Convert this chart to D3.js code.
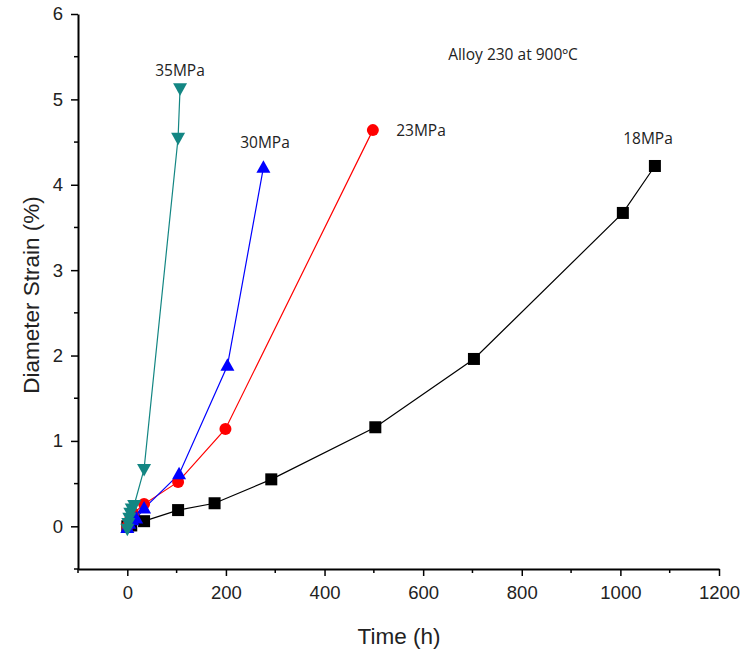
<!DOCTYPE html>
<html><head><meta charset="utf-8">
<script src="https://cdn.jsdelivr.net/npm/d3@7"></script>
<style>body{margin:0;background:#fff}</style>
</head><body>
<svg id="c" width="742" height="651"></svg>
<script>
const xTicks = [0, 200, 400, 600, 800, 1000, 1200];
const yTicks = [0, 1, 2, 3, 4, 5, 6];
const s18t = [0, 8, 34, 103, 177, 292, 503, 703, 1005, 1070];
const s18v = [0, 0.01, 0.06, 0.19, 0.27, 0.55, 1.16, 1.96, 3.67, 4.22];
const s23t = [0, 5, 12, 34, 103, 199, 498];
const s23v = [0, 0.07, 0.15, 0.26, 0.52, 1.14, 4.64];
const s30t = [0, 4, 10, 18, 34, 105, 203, 276];
const s30v = [-0.02, 0.03, 0.07, 0.09, 0.21, 0.61, 1.88, 4.2];
const s35t = [0, 2, 4, 6, 9, 14, 34, 103, 107];
const s35v = [-0.03, 0.04, 0.1, 0.16, 0.21, 0.25, 0.67, 4.55, 5.13];
const seriesNames = ["18MPa", "23MPa", "30MPa", "35MPa"];
const colors = ["#000000", "#ff0000", "#0000ff", "#138683"];
const shapes = ["square", "circle", "up", "down"];

const svg = d3.select("#c");
const x = d3.scaleLinear().domain([-100, 1200]).range([78, 719]);
const y = d3.scaleLinear().domain([-0.5, 6]).range([569, 14]);
const font = "Arial, 'Liberation Sans', sans-serif";

// axes
const xAxis = d3.axisBottom(x).tickValues(xTicks).tickFormat(d3.format("d")).tickSize(7).tickSizeOuter(0).tickPadding(10);
const gx = svg.append("g").attr("transform", `translate(0,${y(-0.5)})`).call(xAxis);
const xMinor = d3.range(-100, 1201, 100).filter(v => !xTicks.includes(v));
gx.selectAll(".minor").data(xMinor).enter().append("line")
  .attr("x1", d => x(d)).attr("x2", d => x(d)).attr("y1", 0).attr("y2", 4).attr("stroke", "#000").attr("stroke-width", 1.5);
const yAxis = d3.axisLeft(y).tickValues(yTicks).tickFormat(d3.format("d")).tickSize(7).tickSizeOuter(0).tickPadding(8);
const gy = svg.append("g").attr("transform", `translate(${x(-100)},0)`).call(yAxis);
const yMinor = d3.range(-0.5, 6, 1);
gy.selectAll(".minor").data(yMinor).enter().append("line")
  .attr("x1", 0).attr("x2", -4).attr("y1", d => y(d)).attr("y2", d => y(d)).attr("stroke", "#000").attr("stroke-width", 1.5);
[gx, gy].forEach(g => {
  g.select(".domain").attr("stroke", "#000").attr("stroke-width", 2);
  g.selectAll(".tick line").attr("stroke", "#000").attr("stroke-width", 1.5);
  g.selectAll(".tick text").attr("font-family", font).attr("font-size", 18.5).attr("fill", "#222");
});

svg.append("text").attr("x", 399).attr("y", 644).attr("text-anchor", "middle")
  .attr("font-family", font).attr("font-size", 22.5).attr("fill", "#222").text("Time (h)");
svg.append("text").attr("transform", "translate(39,295) rotate(-90)").attr("text-anchor", "middle")
  .attr("font-family", font).attr("font-size", 22.5).attr("fill", "#222").text("Diameter Strain (%)");

const data = [[s18t, s18v], [s23t, s23v], [s30t, s30v], [s35t, s35v]];
const line = d3.line().x(d => x(d[0])).y(d => y(d[1]));
data.forEach(([t, v], i) => {
  const pts = t.map((tt, j) => [tt, v[j]]);
  svg.append("path").datum(pts).attr("d", line).attr("fill", "none")
    .attr("stroke", colors[i]).attr("stroke-width", 1.2);
});
data.forEach(([t, v], i) => {
  const pts = t.map((tt, j) => [tt, v[j]]);
  const g = svg.append("g").attr("fill", colors[i]);
  pts.forEach(p => {
    const cx = x(p[0]), cy = y(p[1]);
    if (shapes[i] === "square") g.append("rect").attr("x", cx - 6).attr("y", cy - 6).attr("width", 12).attr("height", 12);
    else if (shapes[i] === "circle") g.append("circle").attr("cx", cx).attr("cy", cy).attr("r", 6);
    else if (shapes[i] === "up") g.append("path").attr("d", `M${cx},${cy-7.5}L${cx+7},${cy+5}L${cx-7},${cy+5}Z`);
    else g.append("path").attr("d", `M${cx},${cy+7.5}L${cx+7},${cy-5}L${cx-7},${cy-5}Z`);
  });
});

const lfont = "'Open Sans', 'Noto Sans', sans-serif";
const labels = [
  {t: "35MPa", x: 180, y: 76},
  {t: "30MPa", x: 265, y: 148},
  {t: "23MPa", x: 421, y: 136},
  {t: "18MPa", x: 648, y: 144},
  {t: "Alloy 230 at 900ºC", x: 513, y: 60}
];
svg.selectAll(".lbl").data(labels).enter().append("text")
  .attr("x", d => d.x).attr("y", d => d.y).attr("text-anchor", "middle")
  .attr("font-family", lfont).attr("font-size", 15.5).attr("fill", "#222").text(d => d.t);
</script>
</body></html>
